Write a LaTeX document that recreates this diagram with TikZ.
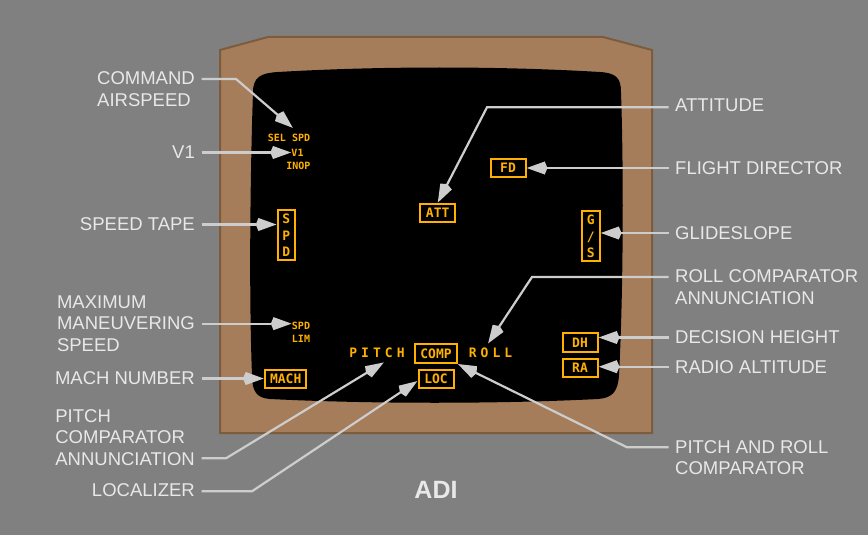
\documentclass[tikz,border=0pt]{standalone}
\usepackage{fontspec}
\setmainfont{Liberation Sans}
\newfontfamily\scrfont{DejaVu Sans Mono}
\newfontfamily\scrspaced[LetterSpace=31]{DejaVu Sans Mono}
\usetikzlibrary{arrows.meta}
\definecolor{bggray}{RGB}{128,128,128}
\definecolor{bezel}{RGB}{166,125,90}
\definecolor{bezeledge}{RGB}{125,92,62}
\definecolor{amber}{RGB}{255,176,0}
\definecolor{lbltext}{RGB}{232,232,232}
\definecolor{leadgray}{RGB}{205,205,205}
\begin{document}
\begin{tikzpicture}[x=1pt, y=-1pt,
  callout/.style={text=lbltext, inner sep=0pt, align=left, font=\fontsize{18.5}{21.6}\selectfont},
  leader/.style={draw=leadgray, line width=2.2pt, -{Stealth[length=18pt,width=12pt,inset=-3pt]}, shorten <=6.5pt},
  scrtext/.style={text=amber, inner sep=0pt, font=\scrfont\bfseries\fontsize{10}{12}\selectfont},
  scrword/.style={text=amber, inner sep=0pt, font=\scrspaced\bfseries\fontsize{13}{16}\selectfont},
  scrbox/.style={draw=amber, line width=2pt, inner sep=0pt, text=amber, align=center,
    font=\scrfont\bfseries\fontsize{13}{16.4}\selectfont, minimum width=35pt, minimum height=18.5pt}]
  % background
  \fill[bggray] (0,0) rectangle (868,535);
  % bezel
  \filldraw[fill=bezel, draw=bezeledge, line width=2pt]
    (220,50) -- (268,37) -- (603,37) -- (652,50) -- (652,433) -- (220,433) -- cycle;
  % screen
  \fill[black] (253,92) .. controls (253,77) and (261,73) .. (278,72)
    .. controls (380,66) and (500,66) .. (600,72)
    .. controls (616,73) and (621,78) .. (621,92)
    .. controls (624,180) and (623,300) .. (619,375)
    .. controls (618,392) and (612,398) .. (598,399)
    .. controls (500,404) and (370,404) .. (270,399)
    .. controls (257,398) and (252,392) .. (252,375)
    .. controls (249,300) and (250,180) .. (253,92) -- cycle;

  % screen texts
  \node[scrtext] (selspd) at (289,138) {SEL SPD};
  \node[scrtext] (v1) at (297.5,152.7) {V1};
  \node[scrtext] (inop) at (298.3,166) {INOP};
  \node[scrtext] (spdtxt) at (301,325.7) {SPD};
  \node[scrtext] (lim) at (301,339.3) {LIM};
  \node[scrbox, minimum width=17pt, minimum height=50pt] (spd) at (286.2,235.2) {S\\P\\D};
  \node[scrbox, minimum width=17.5pt, minimum height=50pt] (gs) at (590.8,236.3) {G\\/\\S};
  \node[scrbox, minimum width=41.5pt] (mach) at (285.7,378.8) {MACH};
  \node[scrword] (pitch) at (377,352.7) {PITCH};
  \node[scrword] (roll) at (490.5,352.7) {ROLL};
  \node[scrbox, minimum width=41.5pt] (comp) at (436,353.7) {COMP};
  \node[scrbox] (loc) at (436,379) {LOC};
  \node[scrbox] (att) at (437.7,213) {ATT};
  \node[scrbox] (fd) at (508,167.8) {FD};
  \node[scrbox] (dh) at (580,342.7) {DH};
  \node[scrbox] (ra) at (580,368) {RA};

  % left callouts
  \node[callout, anchor=north east] (cmdlbl) at (195,71.4) {COMMAND\\AIRSPEED};
  \node[callout, anchor=east] (v1lbl) at (195,152.5) {V1};
  \node[callout, anchor=east] (tapelbl) at (195,224.5) {SPEED TAPE};
  \node[callout, anchor=north east] (maxlbl) at (195,295.4) {MAXIMUM\\MANEUVERING\\SPEED};
  \node[callout, anchor=east] (machlbl) at (195,378.5) {MACH NUMBER};
  \node[callout, anchor=north east] (pcalbl) at (195,409.2) {PITCH\\COMPARATOR\\ANNUNCIATION};
  \node[callout, anchor=east] (loclbl) at (195,490.5) {LOCALIZER};

  % right callouts
  \node[callout, anchor=west] (attlbl) at (675,105) {ATTITUDE};
  \node[callout, anchor=west] (fdlbl) at (675,168) {FLIGHT DIRECTOR};
  \node[callout, anchor=west] (gslbl) at (675,233) {GLIDESLOPE};
  \node[callout, anchor=north west] (rcalbl) at (675,269.6) {ROLL COMPARATOR\\ANNUNCIATION};
  \node[callout, anchor=west] (dhlbl) at (675,337.5) {DECISION HEIGHT};
  \node[callout, anchor=west] (ralbl) at (675,366.7) {RADIO ALTITUDE};
  \node[callout, anchor=north west] (prlbl) at (675,440.2) {PITCH AND ROLL\\COMPARATOR};

  \node[text=lbltext, font=\bfseries\fontsize{25}{30}\selectfont] (adi) at (436,489.5) {ADI};

  % bends
  \coordinate (cmdbend) at (236,79);
  \coordinate (pcbend) at (226,458.3);
  \coordinate (locbend) at (252,491.3);
  \coordinate (attbend) at (487,107.3);
  \coordinate (rcbend) at (532,277);
  \coordinate (prbend) at (627,447.3);

  % leaders left
  \draw[leader] (cmdlbl.east |- cmdbend) -- (cmdbend) -- ([shift={(4,-6)}]selspd.north);
  \draw[leader] (v1lbl.east) -- (v1lbl.east -| v1.west);
  \draw[leader] (tapelbl.east) -- (tapelbl.east -| spd.west);
  \draw[leader] (maxlbl.east) -- (maxlbl.east -| spdtxt.west);
  \draw[leader] (machlbl.east) -- (machlbl.east -| mach.west);
  \draw[leader] (pcalbl.east |- pcbend) -- (pcbend) -- ([shift={(7,4.5)}]pitch.south);
  \draw[leader] (loclbl.east |- locbend) -- (locbend) -- ([yshift=-2pt]loc.west);
  % leaders right
  \draw[leader] (attlbl.west |- attbend) -- (attbend) -- (att.north);
  \draw[leader] (fdlbl.west) -- (fdlbl.west -| fd.east);
  \draw[leader] (gslbl.west) -- (gslbl.west -| gs.east);
  \draw[leader] (rcalbl.west |- rcbend) -- (rcbend) -- ([shift={(-2.5,-4)}]roll.north);
  \draw[leader] (dhlbl.west) -- (dhlbl.west -| dh.east);
  \draw[leader] (ralbl.west) -- (ralbl.west -| ra.east);
  \draw[leader] (prlbl.west |- prbend) -- (prbend) -- (comp.south east);
\end{tikzpicture}
\end{document}
